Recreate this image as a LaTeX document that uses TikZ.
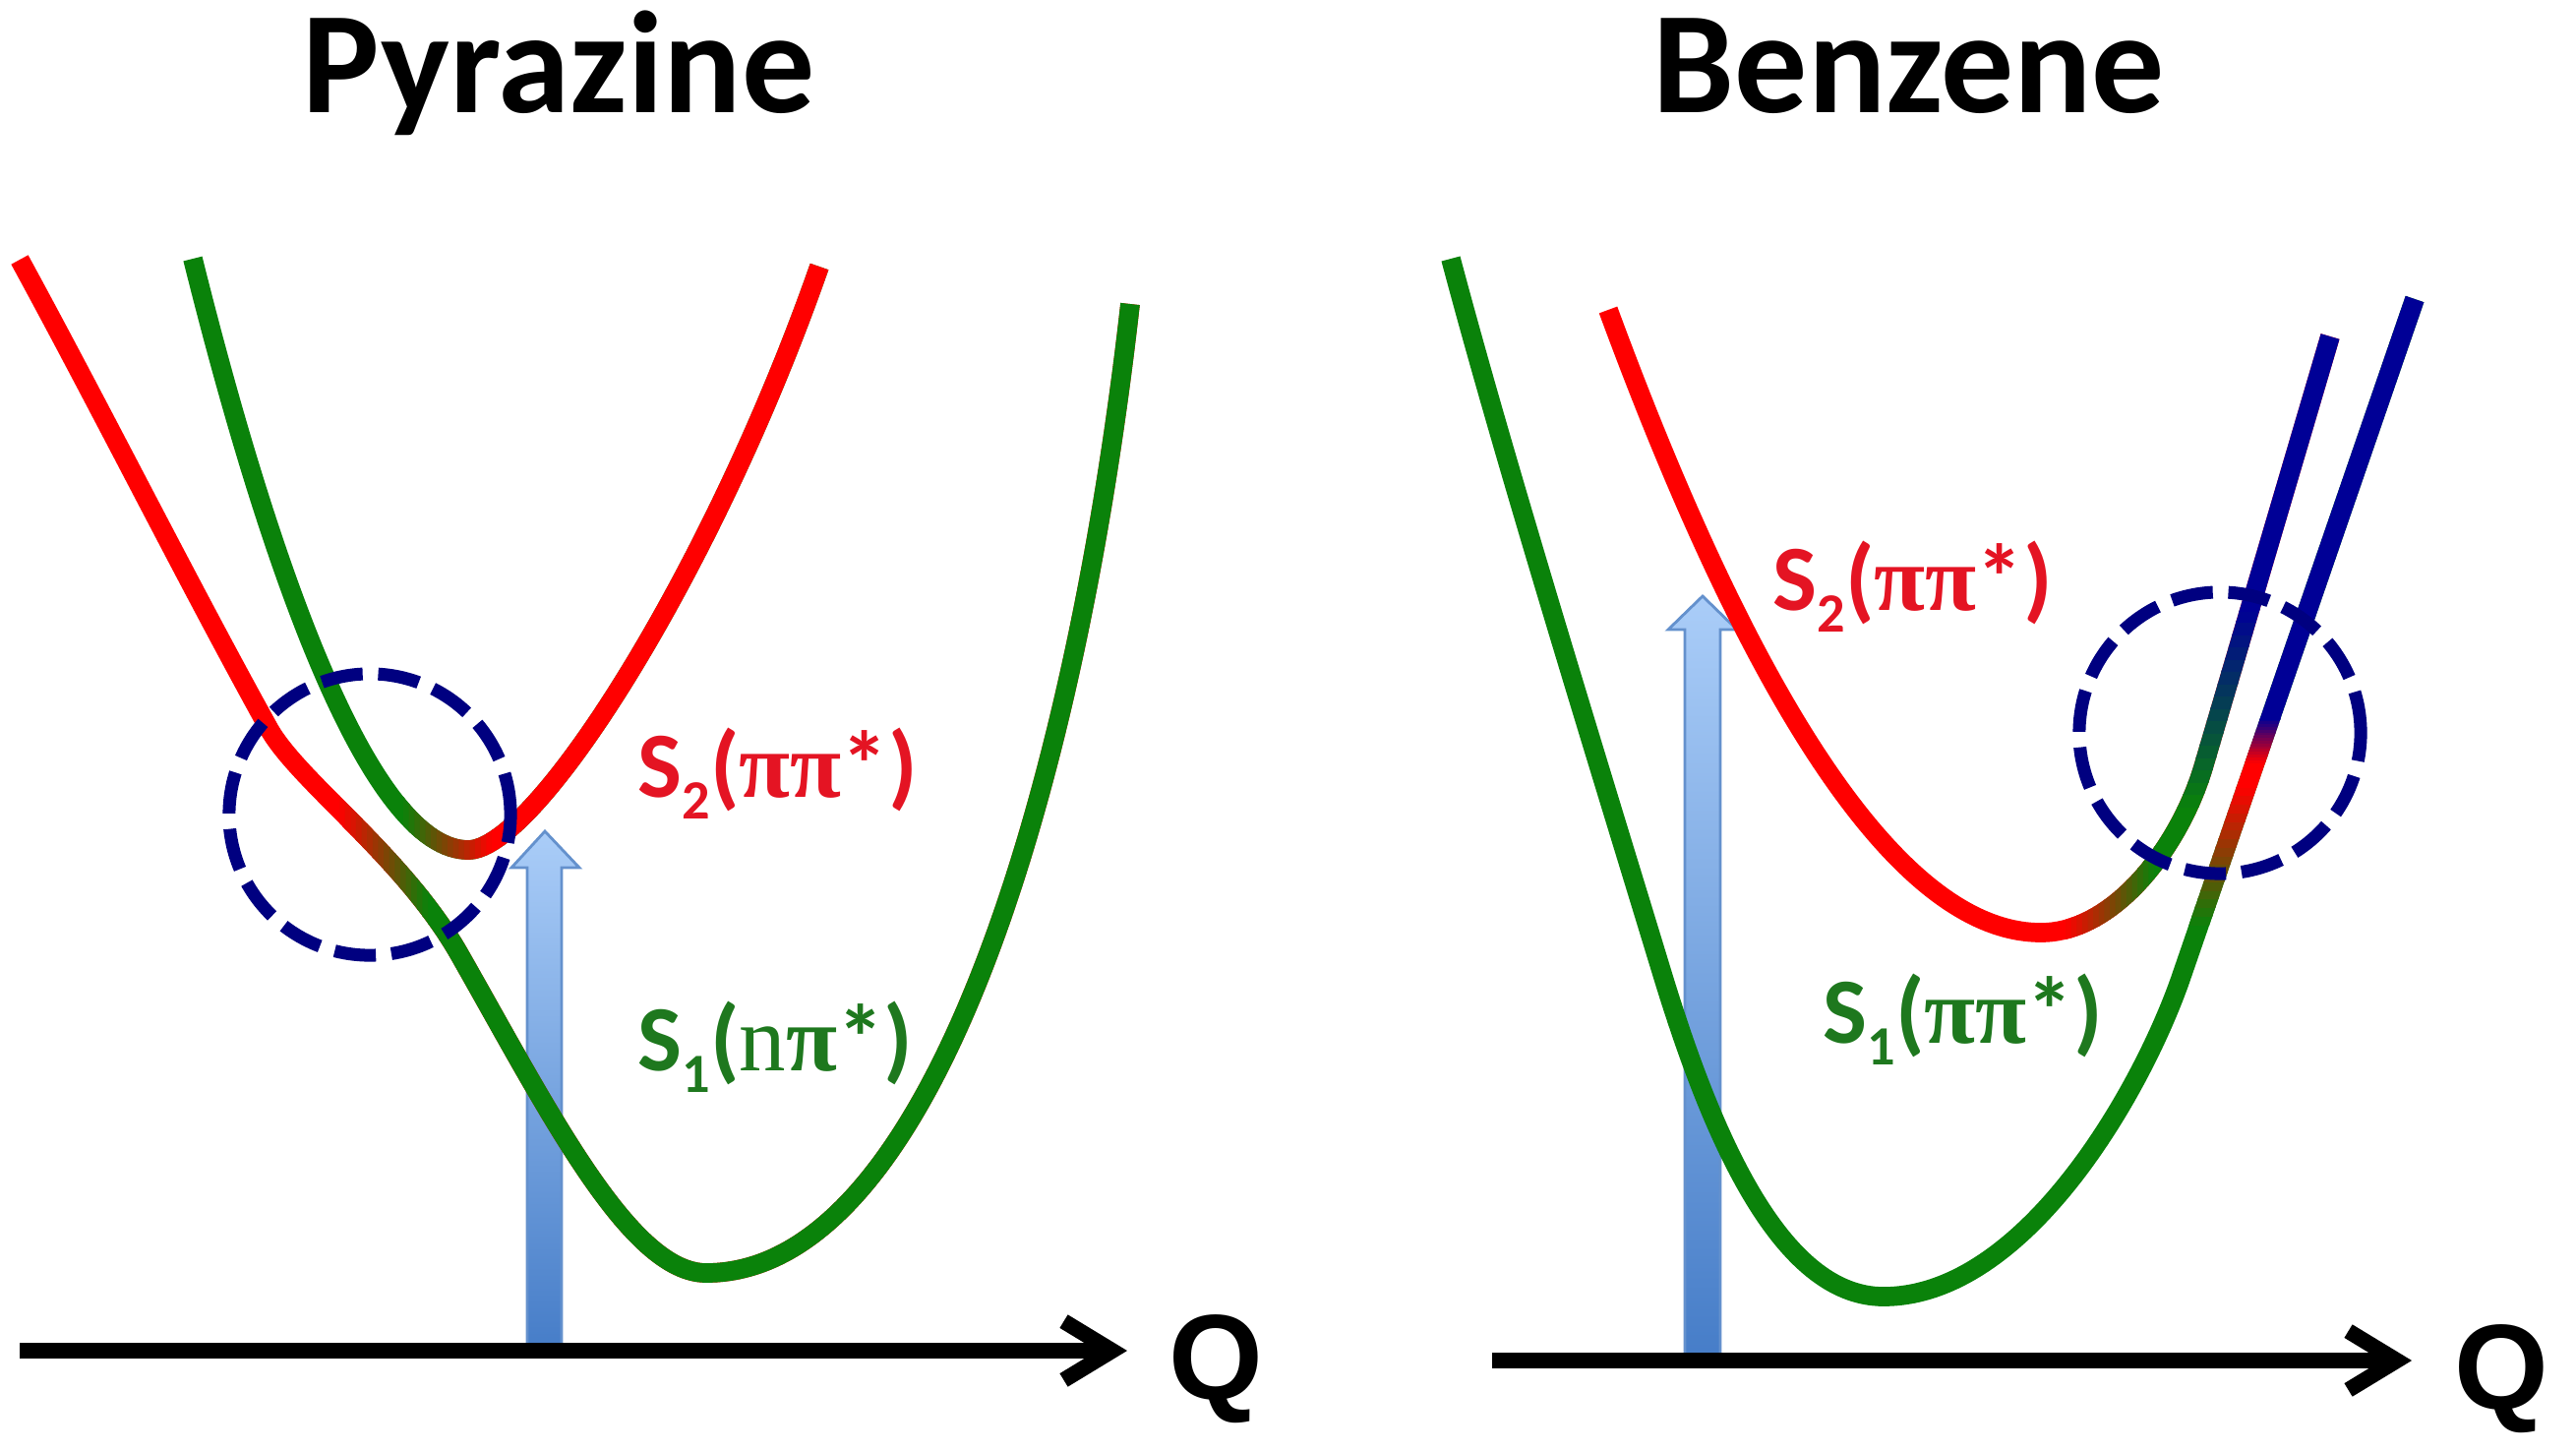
\documentclass[tikz,border=0pt]{standalone}
\usepackage{fontspec}
\setmainfont{Carlito}
\newfontfamily\piserif{Liberation Serif}
\newfontfamily\qsans{Liberation Sans}
\usetikzlibrary{arrows.meta}
\definecolor{cgreen}{RGB}{10,130,10}
\definecolor{cred}{RGB}{255,0,0}
\definecolor{cblue}{RGB}{0,0,150}
\definecolor{cnavy}{RGB}{0,0,128}
\definecolor{lred}{RGB}{228,20,35}
\definecolor{lgreen}{RGB}{30,120,30}
\definecolor{arrtop}{RGB}{170,205,248}
\definecolor{arrbot}{RGB}{70,125,200}
\definecolor{arredge}{RGB}{100,145,205}
\newcommand\stl[2]{S\raisebox{-6.5pt}{\fontsize{16}{16}\selectfont #1}(#2*)}
% potential energy curves
\newcommand\curveLL[1]{\draw[pes,#1] (20,264) .. controls (105,420) and (190,590) .. (273,740) .. controls (303,794) and (410,870) .. (467,970) .. controls (557,1128) and (640,1294) .. (718,1294) .. controls (950,1294) and (1095,790) .. (1149,309);}
\newcommand\curveUL[1]{\draw[pes,#1] (196,263) .. controls (280,600) and (380,864) .. (476,864) .. controls (545,864) and (725,580) .. (833,271);}
\newcommand\curveRL[1]{\draw[pes,#1] (1475,263) .. controls (1530,470) and (1620,760) .. (1690,990) .. controls (1740,1154) and (1810,1318) .. (1915,1318) .. controls (2060,1318) and (2180,1105) .. (2219,989) -- (2455,304);}
\newcommand\curveRU[1]{\draw[pes,#1] (1635,315) .. controls (1740,600) and (1900,948) .. (2075,948) .. controls (2150,948) and (2216,860) .. (2240,780) -- (2369,342);}
% colour bands: vertical strips from x0 (colA) to x1 (colB)
\newcommand\vbands[7]{%
  \foreach \i in {0,...,15}{%
    \pgfmathsetmacro\xa{#2+(#3-#2)*\i/16}%
    \pgfmathsetmacro\xb{#2+(#3-#2)*(\i+1)/16+1}%
    \pgfmathsetmacro\mx{100*(\i+0.5)/16}%
    \begin{scope}
      \clip (\xa,#4) rectangle (\xb,#5);
      #1{color=#7!\mx!#6}
    \end{scope}
  }}
% horizontal strips from y0 (colA) to y1 (colB), y1<y0
\newcommand\hbands[7]{%
  \foreach \i in {0,...,15}{%
    \pgfmathsetmacro\ya{#2+(#3-#2)*\i/16}%
    \pgfmathsetmacro\yb{#2+(#3-#2)*(\i+1)/16-1}%
    \pgfmathsetmacro\mx{100*(\i+0.5)/16}%
    \begin{scope}
      \clip (#4,\ya) rectangle (#5,\yb);
      #1{color=#7!\mx!#6}
    \end{scope}
  }}
\begin{document}
\begin{tikzpicture}[x=0.01cm,y=-0.01cm,
  pes/.style={line width=5.6pt},
  axisline/.style={line width=4.5pt,-{Straight Barb[length=14pt,width=17pt]}},
  ring/.style={draw=cnavy,circle,line width=3.7pt,dash pattern=on 12pt off 4.5pt,minimum size=2.86cm,inner sep=0pt},
  title/.style={font=\fontsize{42}{42}\selectfont\bfseries,inner sep=0pt,anchor=base},
  lab/.style={font=\fontsize{27}{27}\selectfont\bfseries,inner sep=0pt,anchor=base west},
  qlab/.style={font=\qsans\fontsize{35}{35}\selectfont\bfseries,inner sep=0pt,anchor=base},
  bluearrow/.style={top color=arrtop,bottom color=arrbot,draw=arredge,line width=0.8pt}]
\useasboundingbox (0,0) rectangle (2619,1475);
\fill[white] (0,0) rectangle (2619,1475);

% titles
\node[title] (tPyr) at (568,114) {Pyrazine};
\node[title] (tBen) at (1941,114) {Benzene};

% excitation arrows (behind curves)
\shade[bluearrow] (536,1372) -- (536,882) -- (520,882) -- (554,845) -- (589,882) -- (571,882) -- (571,1372) -- cycle;
\shade[bluearrow] (1713,1381) -- (1713,640) -- (1696,640) -- (1731,606) -- (1766,640) -- (1749,640) -- (1749,1381) -- cycle;

% ---- Pyrazine curves
\curveLL{cred}
\vbands{\curveLL}{345}{435}{700}{1000}{cred}{cgreen}
\begin{scope}\clip (435,0) rectangle (1300,1475); \curveLL{cgreen}\end{scope}

\curveUL{cgreen}
\vbands{\curveUL}{410}{500}{0}{1475}{cgreen}{cred}
\begin{scope}\clip (500,0) rectangle (1300,1475); \curveUL{cred}\end{scope}

% ---- Benzene curves
\curveRL{cgreen}
\hbands{\curveRL}{940}{800}{2150}{2619}{cgreen}{cred}
\begin{scope}\clip (2150,800) rectangle (2619,774); \curveRL{cred}\end{scope}
\hbands{\curveRL}{775}{730}{2150}{2619}{cred}{cblue}
\begin{scope}\clip (2150,731) rectangle (2619,0); \curveRL{cblue}\end{scope}

\curveRU{cred}
\vbands{\curveRU}{2100}{2190}{820}{1100}{cred}{cgreen}
\begin{scope}\clip (2190,819) rectangle (2619,1100); \curveRU{cgreen}\end{scope}
\hbands{\curveRU}{820}{620}{2150}{2619}{cgreen}{cblue}
\begin{scope}\clip (2150,621) rectangle (2619,0); \curveRU{cblue}\end{scope}

% dashed rings
\node[ring] (ringL) at (376,828) {};
\node[ring] (ringR) at (2257,745) {};

% axes
\coordinate (axL0) at (20,1373);
\coordinate (axL1) at (1146,1373);
\coordinate (axR0) at (1517,1383);
\coordinate (axR1) at (2452,1383);
\draw[axisline] (axL0) -- (axL1);
\draw[axisline] (axR0) -- (axR1);
\node[qlab] (qL) at (1236,1422) {Q};
\node[qlab] (qR) at (2543,1432) {Q};

% state labels
\node[lab,text=lred] (s2L) at (648,810) {\stl{2}{{\piserif ππ}}};
\node[lab,text=lgreen] (s1L) at (648,1088) {\stl{1}{{\piserif\mdseries n}{\piserif π}}};
\node[lab,text=lred] (s2R) at (1802,620) {\stl{2}{{\piserif ππ}}};
\node[lab,text=lgreen] (s1R) at (1853,1060) {\stl{1}{{\piserif ππ}}};
\end{tikzpicture}
\end{document}
